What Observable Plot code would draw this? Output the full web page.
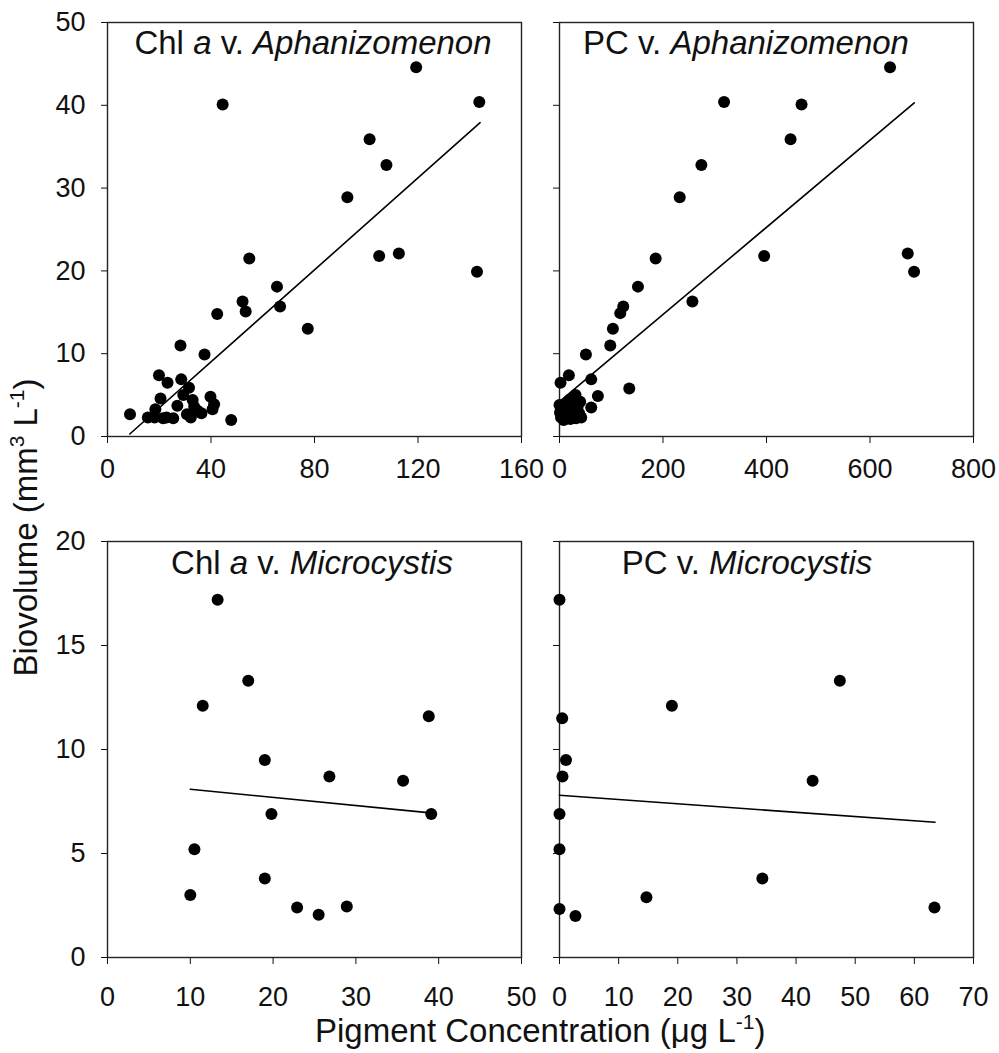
<!DOCTYPE html>
<html>
<head>
<meta charset="utf-8">
<script src="https://cdn.jsdelivr.net/npm/d3@7"></script>
<script src="https://cdn.jsdelivr.net/npm/@observablehq/plot@0.6"></script>
<style>
  html, body { margin: 0; padding: 0; background: #fff; }
  #chart { position: relative; width: 999px; height: 1053px; overflow: hidden;
           font-family: "Liberation Sans", Arial, sans-serif; color: #111; }
  .panel { position: absolute; }
  .panel svg { max-width: none; background: transparent; }
  .title { position: absolute; font-size: 33px; line-height: 33px; white-space: nowrap;
           transform: translateX(-50%); }
  .axis-title { position: absolute; font-size: 33px; line-height: 33px; white-space: nowrap; }
  .axis-title sup { font-size: 21px; vertical-align: 0; position: relative; top: -13px; }
</style>
</head>
<body>
<div id="chart"></div>
<script>
// Chl a vs Aphanizomenon biovolume
const chlAphanX = [8.7,15.6,18.2,18.5,19.9,20.5,21.5,22.8,23.2,25.4,27.0,28.2,28.5,29.3,30.7,31.5,32.2,32.9,33.5,34.8,36.3,37.5,39.8,40.6,41.2,42.4,44.5,47.8,52.2,53.4,54.8,65.5,66.7,77.4,92.7,101.3,105.0,107.8,112.6,119.3,142.8,143.7];
const chlAphanY = [2.7,2.3,2.3,3.3,7.4,4.6,2.2,2.3,6.5,2.2,3.7,11.0,6.9,5.0,2.7,5.9,2.3,4.4,3.6,3.1,2.8,9.9,4.8,3.3,3.9,14.8,40.1,2.0,16.3,15.1,21.5,18.1,15.7,13.0,28.9,35.9,21.8,32.8,22.1,44.6,19.9,40.4];
const chlAphanFitX = [8.6, 144.0];
const chlAphanFitY = [0.3, 37.9];

// Phycocyanin vs Aphanizomenon biovolume
const pcAphanX = [638.7,318.0,467.7,446.5,274.2,232.3,672.9,685.2,395.5,185.8,151.6,256.8,123.2,117.4,103.2,98.1,51.0,134.8,61.3,18.1,2.0,74.2,61.3,0,1,3,5,8,11,14,16,19,21,24,27,29,32,35,38,40,42,31];
const pcAphanY = [44.6,40.4,40.1,35.9,32.8,28.9,22.1,19.9,21.8,21.5,18.1,16.3,15.7,14.9,13.0,11.0,9.9,5.8,6.9,7.4,6.5,4.9,3.5,3.8,2.9,2.3,3.3,2.0,2.7,3.9,2.3,4.4,2.1,3.1,2.6,4.6,2.2,3.6,2.8,4.2,2.3,5.0];
const pcAphanFitX = [0, 685.5];
const pcAphanFitY = [4.2, 40.3];

// Chl a vs Microcystis biovolume
const chlMicroX = [13.3,17.0,11.5,38.8,19.0,26.8,35.7,19.8,39.1,10.5,19.0,10.0,22.9,25.5,28.9];
const chlMicroY = [17.2,13.3,12.1,11.6,9.5,8.7,8.5,6.9,6.9,5.2,3.8,3.0,2.4,2.05,2.45];
const chlMicroFitX = [10.0, 39.6];
const chlMicroFitY = [8.09, 6.93];

// Phycocyanin vs Microcystis biovolume
const pcMicroX = [0,47.4,19.0,0.45,1.1,0.5,42.8,0,0,34.3,14.7,0,63.4,2.7];
const pcMicroY = [17.2,13.3,12.1,11.5,9.5,8.7,8.5,6.9,5.2,3.8,2.9,2.33,2.4,2.0];
const pcMicroFitX = [0, 63.5];
const pcMicroFitY = [7.8, 6.5];

// Axis ticks
const topYTicks = [0, 10, 20, 30, 40, 50];
const bottomYTicks = [0, 5, 10, 15, 20];
const chlAphanXTicks = [0, 40, 80, 120, 160];
const pcAphanXTicks = [0, 200, 400, 600, 800];
const chlMicroXTicks = [0, 10, 20, 30, 40, 50];
const pcMicroXTicks = [0, 10, 20, 30, 40, 50, 60, 70];

const font = '"Liberation Sans", Arial, sans-serif';
const ink = "#111";

function points(xs, ys) { return xs.map((x, i) => ({x, y: ys[i]})); }

function panel({xs, ys, fx, fy, xDomain, yDomain, xTicks, yTicks, yLabels,
                left, top, ml, mt, iw, ih, xPad}) {
  const mr = 24, mb = 60;
  const svg = Plot.plot({
    width: ml + iw + mr,
    height: mt + ih + mb,
    marginLeft: ml, marginRight: mr, marginTop: mt, marginBottom: mb,
    style: {fontFamily: font, fontSize: "27px", color: ink, background: "transparent", overflow: "visible"},
    x: {domain: xDomain, ticks: xTicks, tickSize: 7, tickPadding: xPad, label: null},
    y: {domain: yDomain, ticks: yTicks, tickSize: 6, tickPadding: 16, label: null,
        tickFormat: yLabels ? (d => d) : (() => "")},
    marks: [
      Plot.frame({stroke: "#222", strokeWidth: 1.4}),
      Plot.line(points(fx, fy), {x: "x", y: "y", stroke: "#000", strokeWidth: 1.6}),
      Plot.dot(points(xs, ys), {x: "x", y: "y", r: 6, fill: "#000", stroke: "none"})
    ]
  });
  const wrap = document.createElement("div");
  wrap.className = "panel";
  wrap.style.left = (left - ml) + "px";
  wrap.style.top = (top - mt) + "px";
  wrap.appendChild(svg);
  return wrap;
}

const chart = document.getElementById("chart");

chart.appendChild(panel({xs: pcAphanX, ys: pcAphanY, fx: pcAphanFitX, fy: pcAphanFitY,
  xDomain: [0, 800], yDomain: [0, 50], xTicks: pcAphanXTicks, yTicks: topYTicks, yLabels: false,
  left: 559, top: 22, ml: 30, mt: 22, iw: 414, ih: 414, xPad: 15}));
chart.appendChild(panel({xs: chlAphanX, ys: chlAphanY, fx: chlAphanFitX, fy: chlAphanFitY,
  xDomain: [0, 160], yDomain: [0, 50], xTicks: chlAphanXTicks, yTicks: topYTicks, yLabels: true,
  left: 107, top: 22, ml: 107, mt: 22, iw: 414, ih: 414, xPad: 15}));
chart.appendChild(panel({xs: pcMicroX, ys: pcMicroY, fx: pcMicroFitX, fy: pcMicroFitY,
  xDomain: [0, 70], yDomain: [0, 20], xTicks: pcMicroXTicks, yTicks: bottomYTicks, yLabels: false,
  left: 559, top: 541, ml: 30, mt: 22, iw: 414, ih: 416, xPad: 22}));
chart.appendChild(panel({xs: chlMicroX, ys: chlMicroY, fx: chlMicroFitX, fy: chlMicroFitY,
  xDomain: [0, 50], yDomain: [0, 20], xTicks: chlMicroXTicks, yTicks: bottomYTicks, yLabels: true,
  left: 107, top: 541, ml: 107, mt: 22, iw: 414, ih: 416, xPad: 22}));

// Panel titles
const titles = [
  {html: "Chl <i>a</i> v. <i>Aphanizomenon</i>", cx: 313, baseline: 54},
  {html: "PC v. <i>Aphanizomenon</i>", cx: 746, baseline: 54},
  {html: "Chl <i>a</i> v. <i>Microcystis</i>", cx: 312, baseline: 574},
  {html: "PC v. <i>Microcystis</i>", cx: 747, baseline: 574}
];
for (const t of titles) {
  const d = document.createElement("div");
  d.className = "title";
  d.innerHTML = t.html;
  d.style.left = t.cx + "px";
  d.style.top = (t.baseline - 28) + "px";
  chart.appendChild(d);
}

// Shared axis titles
const xTitle = document.createElement("div");
xTitle.className = "axis-title";
xTitle.innerHTML = "Pigment Concentration (&mu;g L<sup>-1</sup>)";
chart.appendChild(xTitle);
xTitle.style.left = (540 - xTitle.offsetWidth / 2) + "px";
xTitle.style.top = (1042 - 28) + "px";

const yTitle = document.createElement("div");
yTitle.className = "axis-title";
yTitle.innerHTML = "Biovolume (mm<sup>3</sup> L<sup>-1</sup>)";
chart.appendChild(yTitle);
const yw = yTitle.offsetWidth;
yTitle.style.left = (27 - yw / 2) + "px";
yTitle.style.top = (525 - 16) + "px";
yTitle.style.transform = "rotate(-90deg)";
yTitle.style.transformOrigin = "50% 50%";
</script>
</body>
</html>
